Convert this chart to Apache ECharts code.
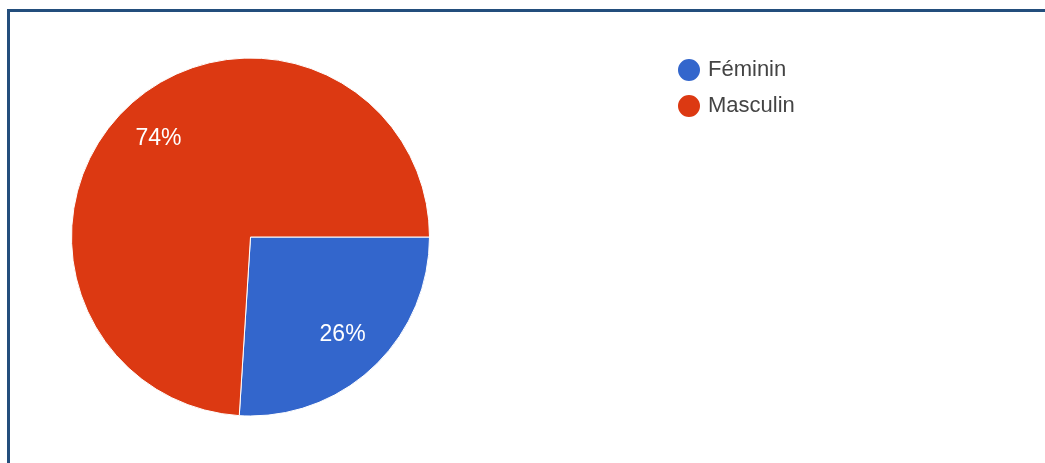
<!DOCTYPE html>
<html>
<head>
<meta charset="utf-8">
<script src="https://cdn.jsdelivr.net/npm/echarts@6/dist/echarts.min.js"></script>
<style>
    html, body { margin: 0; padding: 0; background: #fff; }
    #chart { width: 1045px; height: 463px; }
</style>
</head>
<body>
<div id="chart"></div>
<script>
// data
const categories = ['Féminin', 'Masculin']
const values = [26, 74]
const colors = ['#3366cc', '#dc3912']

const pieData = categories.map((name, i) => ({
    name,
    value: values[i],
    itemStyle: { color: colors[i] },
}))

const center = [250.5, 237]
const outerR = 179

const chart = echarts.init(document.getElementById('chart'))

chart.setOption({
    backgroundColor: '#ffffff',
    animation: false,
    graphic: [
        // frame: top and left edge only
        { type: 'rect', shape: { x: 7, y: 9, width: 1038, height: 3 }, style: { fill: '#234e7c' } },
        { type: 'rect', shape: { x: 7, y: 9, width: 3, height: 454 }, style: { fill: '#234e7c' } },
    ],
    legend: {
        orient: 'vertical',
        left: 671,
        top: 52,
        icon: 'circle',
        itemWidth: 24,
        itemHeight: 24,
        itemGap: 10,
        data: categories,
        textStyle: {
            fontFamily: 'Liberation Sans, Arial, sans-serif',
            fontSize: 22,
            color: '#444',
            padding: [0, 0, 0, 2],
        },
    },
    series: [
        {
            type: 'pie',
            center,
            radius: [0, outerR],
            startAngle: 0,
            clockwise: true,
            silent: true,
            label: { show: false },
            labelLine: { show: false },
            itemStyle: { borderColor: '#ffffff', borderWidth: 1 },
            data: pieData,
        },
        // transparent ring only used to place the percentage labels further out
        {
            type: 'pie',
            center,
            radius: [84, outerR],
            startAngle: 0,
            clockwise: true,
            silent: true,
            itemStyle: { color: 'transparent' },
            label: {
                show: true,
                position: 'inside',
                formatter: (p) => Math.round(p.percent) + '%',
                fontFamily: 'Liberation Sans, Arial, sans-serif',
                fontSize: 23,
                color: '#ffffff',
            },
            labelLine: { show: false },
            data: categories.map((name, i) => ({ name, value: values[i] })),
        },
    ],
})
</script>
</body>
</html>
